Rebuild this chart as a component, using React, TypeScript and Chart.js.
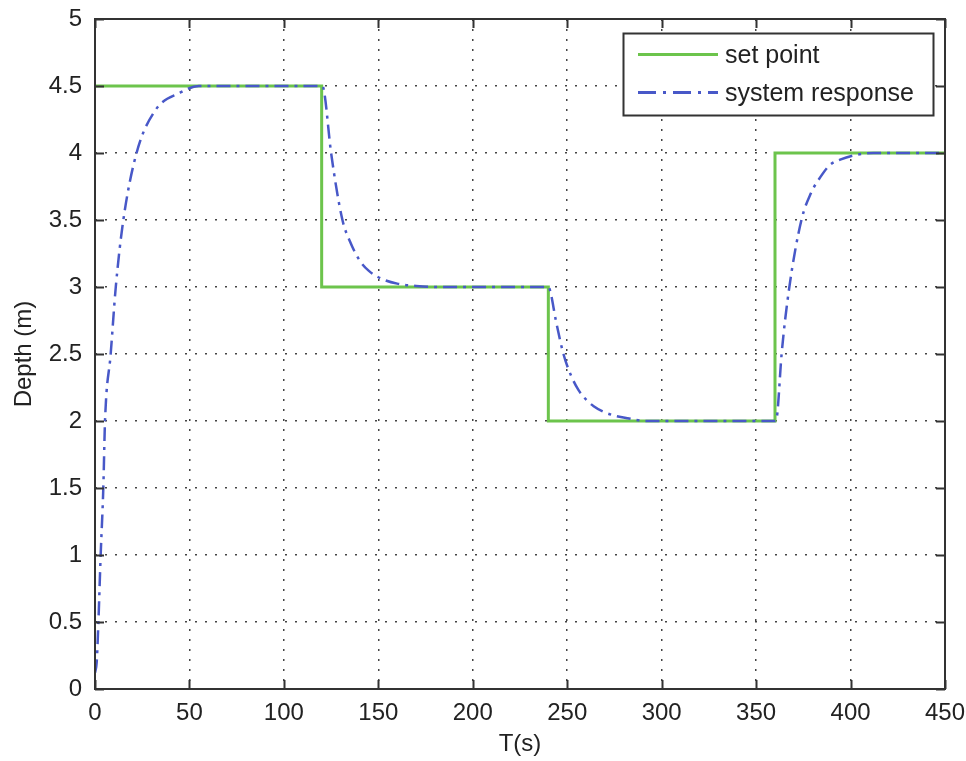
import React, { useEffect, useRef } from 'react';
import { Chart, registerables } from 'chart.js';

Chart.register(...registerables);

// ---- data ----
const setTimes = [0, 120, 120, 240, 240, 360, 360, 450];
const setValues = [4.5, 4.5, 3, 3, 2, 2, 4, 4];

const respTimes = [
  0, 0.9, 1.8, 3, 4.4, 5.3, 8.3, 11, 15, 22, 32, 45, 55, 120,
  121, 125, 131, 135, 140, 145, 152, 160, 170, 180, 240,
  241, 244, 248, 252, 256, 260, 264, 269, 275, 282, 292, 360,
  361, 363.5, 367.6, 374, 379, 384, 389, 394.5, 401, 412, 450,
];
const respValues = [
  0.12, 0.2, 0.5, 1.0, 1.5, 2.0, 2.5, 3.0, 3.5, 4.0, 4.32, 4.45, 4.5, 4.5,
  4.48, 4.0, 3.5, 3.34, 3.2, 3.12, 3.06, 3.025, 3.008, 3.0, 3.0,
  2.97, 2.75, 2.5, 2.34, 2.23, 2.16, 2.11, 2.07, 2.04, 2.02, 2.0, 2.0,
  2.03, 2.5, 3.0, 3.5, 3.7, 3.82, 3.91, 3.95, 3.98, 4.0, 4.0,
];

const xTicks = [0, 50, 100, 150, 200, 250, 300, 350, 400, 450];
const yTicks = [0, 0.5, 1, 1.5, 2, 2.5, 3, 3.5, 4, 4.5, 5];
const xLabel = 'T(s)';
const yLabel = 'Depth (m)';
const legendLabels = ['set point', 'system response'];

const GREEN = 'rgb(108,196,76)';
const BLUE = 'rgb(72,88,200)';
const TEXT = '#222';
const AXIS = '#333';
const FONT = '"Liberation Sans", Arial, sans-serif';
const RESP_DASH = [14, 6, 3, 6];

const framePlugin = {
  id: 'frame',
  afterDraw(chart: any) {
    const { ctx, chartArea: a, scales } = chart;
    const xs = scales.x;
    const ys = scales.y;
    ctx.save();
    // box
    ctx.strokeStyle = AXIS;
    ctx.lineWidth = 2;
    ctx.setLineDash([]);
    ctx.strokeRect(a.left, a.top, a.right - a.left, a.bottom - a.top);
    // inward ticks
    const tl = 9;
    ctx.beginPath();
    xTicks.forEach((v) => {
      const px = Math.round(xs.getPixelForValue(v)) + 0.5;
      ctx.moveTo(px, a.bottom);
      ctx.lineTo(px, a.bottom - tl);
      ctx.moveTo(px, a.top);
      ctx.lineTo(px, a.top + tl);
    });
    yTicks.forEach((v) => {
      const py = Math.round(ys.getPixelForValue(v)) + 0.5;
      ctx.moveTo(a.left, py);
      ctx.lineTo(a.left + tl, py);
      ctx.moveTo(a.right, py);
      ctx.lineTo(a.right - tl, py);
    });
    ctx.stroke();

    // axis titles
    ctx.fillStyle = TEXT;
    ctx.font = `24px ${FONT}`;
    ctx.textAlign = 'center';
    ctx.textBaseline = 'middle';
    ctx.fillText(xLabel, (a.left + a.right) / 2, 744);
    ctx.save();
    ctx.translate(24, (a.top + a.bottom) / 2);
    ctx.rotate(-Math.PI / 2);
    ctx.fillText(yLabel, 0, 0);
    ctx.restore();

    // legend
    const lx = 623, ly = 33, lw = 310, lh = 82;
    ctx.fillStyle = '#fff';
    ctx.fillRect(lx, ly, lw, lh);
    ctx.strokeStyle = AXIS;
    ctx.lineWidth = 2;
    ctx.strokeRect(lx + 0.5, ly + 0.5, lw, lh);

    ctx.lineWidth = 3;
    ctx.strokeStyle = GREEN;
    ctx.beginPath();
    ctx.moveTo(638, 54.5);
    ctx.lineTo(718, 54.5);
    ctx.stroke();

    ctx.lineWidth = 3;
    ctx.strokeStyle = BLUE;
    ctx.setLineDash([18, 7, 3, 7]);
    ctx.beginPath();
    ctx.moveTo(638, 92.5);
    ctx.lineTo(718, 92.5);
    ctx.stroke();
    ctx.setLineDash([]);

    ctx.fillStyle = TEXT;
    ctx.font = `25px ${FONT}`;
    ctx.textAlign = 'left';
    ctx.textBaseline = 'middle';
    ctx.fillText(legendLabels[0], 725, 56);
    ctx.fillText(legendLabels[1], 725, 94);
    ctx.restore();
  },
};

export default function App() {
  const ref = useRef<HTMLCanvasElement | null>(null);

  useEffect(() => {
    document.body.style.margin = '0';
    const canvas = ref.current;
    if (!canvas) return;
    const chart = new Chart(canvas, {
      type: 'line',
      data: {
        datasets: [
          {
            label: legendLabels[1],
            data: respTimes.map((t, i) => ({ x: t, y: respValues[i] })),
            borderColor: BLUE,
            borderWidth: 2.5,
            borderDash: RESP_DASH,
            pointRadius: 0,
            fill: false,
            cubicInterpolationMode: 'monotone',
            order: 0,
          },
          {
            label: legendLabels[0],
            data: setTimes.map((t, i) => ({ x: t, y: setValues[i] })),
            borderColor: GREEN,
            borderWidth: 3,
            pointRadius: 0,
            fill: false,
            tension: 0,
            order: 1,
          },
        ],
      },
      options: {
        responsive: false,
        animation: false,
        devicePixelRatio: 1,
        layout: { padding: { top: 19, right: 21, left: 0, bottom: 0 } },
        plugins: {
          legend: { display: false },
          tooltip: { enabled: false },
        },
        scales: {
          x: {
            type: 'linear',
            min: 0,
            max: 450,
            afterFit: (s: any) => {
              s.height = 72;
              s.paddingLeft = 0;
              s.paddingRight = 0;
            },
            afterBuildTicks: (s: any) => {
              s.ticks = xTicks.map((v) => ({ value: v }));
            },
            ticks: {
              font: { size: 24, family: FONT },
              color: TEXT,
              padding: 10,
              maxRotation: 0,
              autoSkip: false,
              callback: (v: any) => String(v),
            },
            grid: { color: '#444', lineWidth: 1.5, drawTicks: false },
            border: { display: false, dash: [2, 8] },
          },
          y: {
            type: 'linear',
            min: 0,
            max: 5,
            afterFit: (s: any) => {
              s.width = 95;
              s.paddingTop = 0;
              s.paddingBottom = 0;
            },
            afterBuildTicks: (s: any) => {
              s.ticks = yTicks.map((v) => ({ value: v }));
            },
            ticks: {
              font: { size: 24, family: FONT },
              color: TEXT,
              padding: 13,
              autoSkip: false,
              callback: (v: any) => String(v),
            },
            grid: { color: '#444', lineWidth: 1.5, drawTicks: false },
            border: { display: false, dash: [2, 8] },
          },
        },
      },
      plugins: [framePlugin],
    } as any);
    return () => chart.destroy();
  }, []);

  return (
    <div style={{ width: 966, height: 761, background: '#fff' }}>
      <canvas ref={ref} width={966} height={761} style={{ display: 'block', width: 966, height: 761 }} />
    </div>
  );
}
